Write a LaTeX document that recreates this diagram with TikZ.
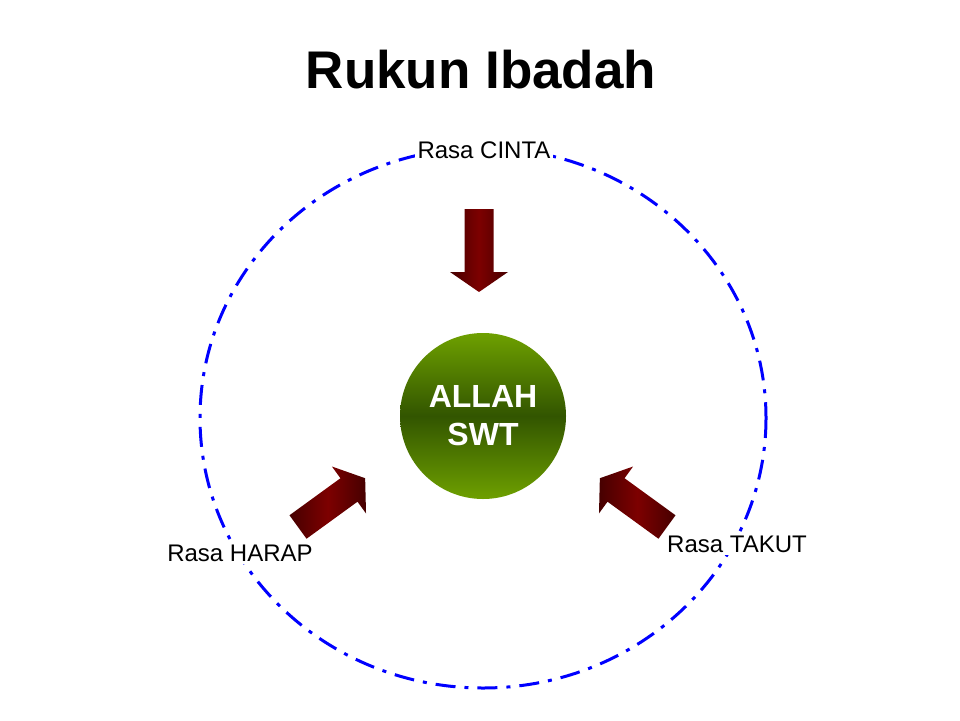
\documentclass[tikz,border=0pt]{standalone}
\usepackage{fontspec}
\setmainfont{Liberation Sans}
\begin{document}
\begin{tikzpicture}[x=1pt,y=-1pt,
  lbl/.style={fill=white,font=\fontsize{24}{28}\selectfont,inner sep=3pt},
  ring/.style={blue,line width=3pt,dash pattern=on 20pt off 9pt on 4pt off 9pt}]
\useasboundingbox (0,0) rectangle (960,720);
\node (title) at (481,70) {\fontsize{53}{60}\selectfont\bfseries Rukun Ibadah};
\draw[ring] (483,418) ellipse [x radius=283, y radius=270];
\shade[top color={rgb,255:red,110;green,160;blue,0},bottom color={rgb,255:red,110;green,160;blue,0},middle color={rgb,255:red,50;green,85;blue,0}] (483,416) circle (83);
\node[white,align=center,font=\fontsize{32}{38}\selectfont\bfseries] (allah) at (483,416) {ALLAH\\SWT};
\foreach \x/\y/\a in {479/209/0, 298/527/126, 667/527/-126}{
  \begin{scope}[shift={(\x,\y)},rotate=\a]
   \shade[left color={rgb,255:red,70;green,0;blue,0},right color={rgb,255:red,70;green,0;blue,0},middle color={rgb,255:red,125;green,0;blue,0}]
     (-14.5,0) -- (14.5,0) -- (14.5,63) -- (29,63) -- (0,83) -- (-29,63) -- (-14.5,63) -- cycle;
  \end{scope}}
\node[lbl] (cinta) at (484,150) {Rasa CINTA};
\node[lbl] (harap) at (240,553) {Rasa HARAP};
\node[lbl] (takut) at (737,544) {Rasa TAKUT};
\end{tikzpicture}
\end{document}
